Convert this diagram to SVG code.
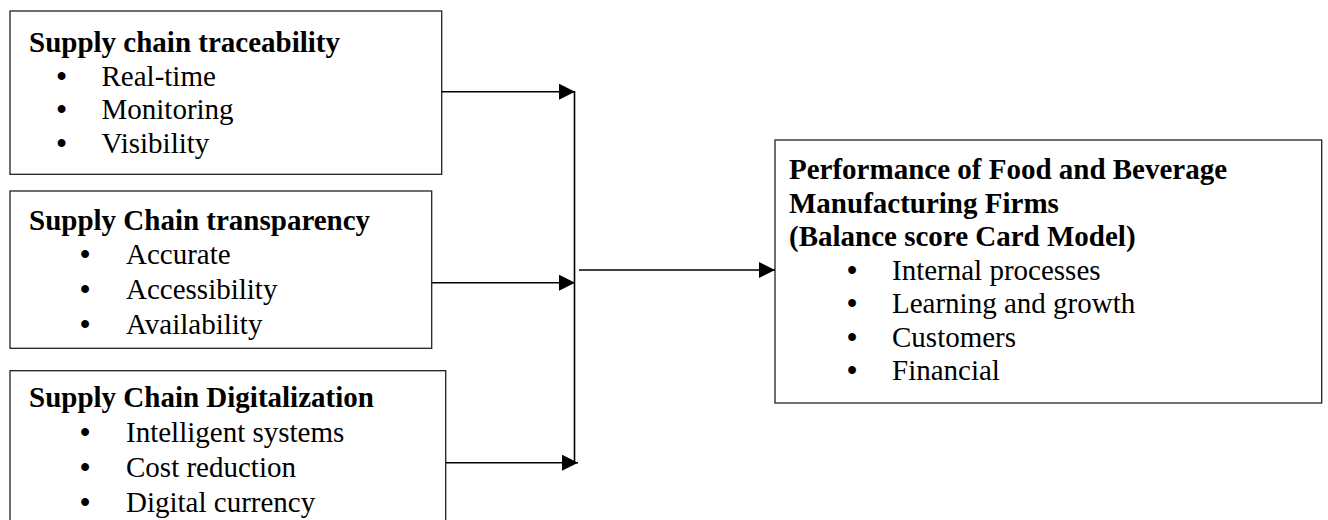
<svg xmlns="http://www.w3.org/2000/svg" width="1328" height="520" viewBox="0 0 1328 520">
<defs>
<marker id="ah" markerUnits="userSpaceOnUse" markerWidth="17" markerHeight="16" refX="16" refY="8" orient="auto">
<path d="M0,0 L16,8 L0,16 Z" fill="#000"/>
</marker>
<style>
.box{fill:#fff;stroke:#222;stroke-width:1.3}
.t{font-family:"Liberation Serif","Times New Roman",serif;font-size:29px;fill:#000}
.b{font-weight:bold}
.bu{text-anchor:middle;font-weight:bold}
.con{stroke:#000;stroke-width:1.6;fill:none}
</style>
</defs>
<rect width="1328" height="520" fill="#fff"/>
<g id="node-traceability">
<rect class="box" x="10" y="11" width="431.7" height="163.3"/>
<text class="t b" x="29" y="52">Supply chain traceability</text>
<text class="t bu" x="61.5" y="85.5">•</text><text class="t" x="101.5" y="85.5">Real-time</text>
<text class="t bu" x="61.5" y="119">•</text><text class="t" x="101.5" y="119">Monitoring</text>
<text class="t bu" x="61.5" y="152.5">•</text><text class="t" x="101.5" y="152.5">Visibility</text>
</g>
<g id="node-transparency">
<rect class="box" x="10" y="191" width="421.7" height="157.3"/>
<text class="t b" x="29" y="230">Supply Chain transparency</text>
<text class="t bu" x="85" y="264">•</text><text class="t" x="126" y="264">Accurate</text>
<text class="t bu" x="85" y="299">•</text><text class="t" x="126" y="299">Accessibility</text>
<text class="t bu" x="85" y="334">•</text><text class="t" x="126" y="334">Availability</text>
</g>
<g id="node-digitalization">
<rect class="box" x="10" y="370.7" width="435.7" height="160"/>
<text class="t b" x="29" y="407">Supply Chain Digitalization</text>
<text class="t bu" x="85" y="442">•</text><text class="t" x="126" y="442">Intelligent systems</text>
<text class="t bu" x="85" y="477">•</text><text class="t" x="126" y="477">Cost reduction</text>
<text class="t bu" x="85" y="512">•</text><text class="t" x="126" y="512">Digital currency</text>
</g>
<g id="node-performance">
<rect class="box" x="775" y="140" width="546.7" height="263"/>
<text class="t b" x="789" y="179">Performance of Food and Beverage</text>
<text class="t b" x="789" y="212.5">Manufacturing Firms</text>
<text class="t b" x="789" y="246">(Balance score Card Model)</text>
<text class="t bu" x="852" y="279.5">•</text><text class="t" x="892" y="279.5">Internal processes</text>
<text class="t bu" x="852" y="313">•</text><text class="t" x="892" y="313">Learning and growth</text>
<text class="t bu" x="852" y="346.5">•</text><text class="t" x="892" y="346.5">Customers</text>
<text class="t bu" x="852" y="380">•</text><text class="t" x="892" y="380">Financial</text>
</g>
<g id="connectors">
<line class="con" x1="441.7" y1="91.7" x2="575" y2="91.7" marker-end="url(#ah)"/>
<line class="con" x1="431.7" y1="282.7" x2="575" y2="282.7" marker-end="url(#ah)"/>
<line class="con" x1="445.7" y1="462.7" x2="578" y2="462.7" marker-end="url(#ah)"/>
<line class="con" x1="574.5" y1="91" x2="574.5" y2="463.5"/>
<line class="con" x1="579" y1="270" x2="775" y2="270" marker-end="url(#ah)"/>
</g>
</svg>
